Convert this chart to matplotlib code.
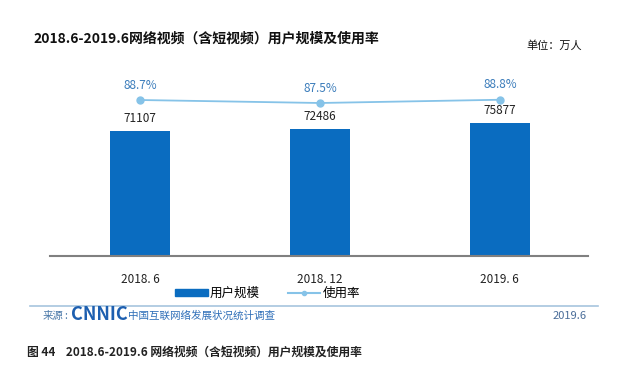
import numpy as np
import matplotlib.pyplot as plt
from matplotlib.patches import Patch
from matplotlib.lines import Line2D

plt.rcParams['font.family'] = ['Noto Sans CJK SC', 'DejaVu Sans']

periods = ["2018. 6", "2018. 12", "2019. 6"]
users = [71107, 72486, 75877]          # 万人
usage_rate = [88.7, 87.5, 88.8]        # %

bar_color = "#0a6cc0"
line_color = "#86c3e8"
pct_color = "#3c7dbb"

fig = plt.figure(figsize=(6.4, 3.7), dpi=100)

W, H = 640.0, 370.0
ax = fig.add_axes([50 / W, 1 - 256 / H, 538 / W, 196 / H])
ax.patch.set_alpha(0)
x = np.arange(len(periods))
ax.bar(x, users, width=0.33, color=bar_color, zorder=2)
ax.set_xlim(-0.5, 2.49)
ax.set_ylim(0, 111500)
for s in ["top", "right", "left"]:
    ax.spines[s].set_visible(False)
ax.spines["bottom"].set_color("#808080")
ax.spines["bottom"].set_linewidth(1.5)
ax.set_yticks([])
ax.set_xticks(x)
ax.set_xticklabels(periods, fontsize=8.5, color="#222222")
ax.tick_params(axis="x", length=0, pad=12)
for xi, v in zip(x, users):
    ax.annotate(str(v), (xi, v), xytext=(0, 4), textcoords="offset points",
                ha="center", va="bottom", fontsize=8.5, color="#222222")

ax2 = ax.twinx()
ax2.patch.set_alpha(0)
ax2.plot(x, usage_rate, color=line_color, lw=1.3, marker="o", ms=5,
         markerfacecolor=line_color, markeredgecolor=line_color, zorder=3)
ax2.set_ylim(26.3, 104.7)
ax2.set_yticks([])
for s in ax2.spines.values():
    s.set_visible(False)
for xi, v in zip(x, usage_rate):
    ax2.annotate(f"{v}%", (xi, v), xytext=(0, 6), textcoords="offset points",
                 ha="center", va="bottom", fontsize=8.5, color=pct_color)

# legend
handles = [Patch(color=bar_color), Line2D([], [], color=line_color, marker="o", ms=3)]
fig.legend(handles, ["用户规模", "使用率"], loc="center", bbox_to_anchor=(0.418, 1 - 293 / H),
           ncol=2, frameon=False, fontsize=9, handlelength=2.6, handleheight=0.5,
           columnspacing=2.2, handletextpad=0.2)

fig.text(33 / W, 1 - 38 / H, "2018.6-2019.6网络视频（含短视频）用户规模及使用率",
         fontsize=10, fontweight="bold", color="#111111", va="center", ha="left")
fig.text(582 / W, 1 - 46 / H, "单位：万人", fontsize=8, color="#111111", va="center", ha="right")

fig.add_artist(Line2D([30 / W, 598 / W], [1 - 306 / H, 1 - 306 / H], color="#a7c5de", lw=1.2))
fig.text(43 / W, 1 - 316 / H, "来源", fontsize=7.5, color="#4a78a8", va="center")
fig.text(64 / W, 1 - 316 / H, ":", fontsize=7.5, color="#4a78a8", va="center")
fig.text(71 / W, 1 - 315 / H, "CNNIC", fontsize=13, fontweight="bold", color="#1d5fb0", va="center")
fig.text(128 / W, 1 - 316 / H, "中国互联网络发展状况统计调查", fontsize=7.6, color="#2f6fb8", va="center")
fig.text(587 / W, 1 - 316 / H, "2019.6", fontsize=8, color="#4a6d99", va="center", ha="right")

fig.text(27 / W, 1 - 352 / H, "图 44    2018.6-2019.6 网络视频（含短视频）用户规模及使用率",
         fontsize=8.5, fontweight="bold", color="#222222", va="center", ha="left")

fig.savefig("out.png", dpi=100, facecolor="white")
